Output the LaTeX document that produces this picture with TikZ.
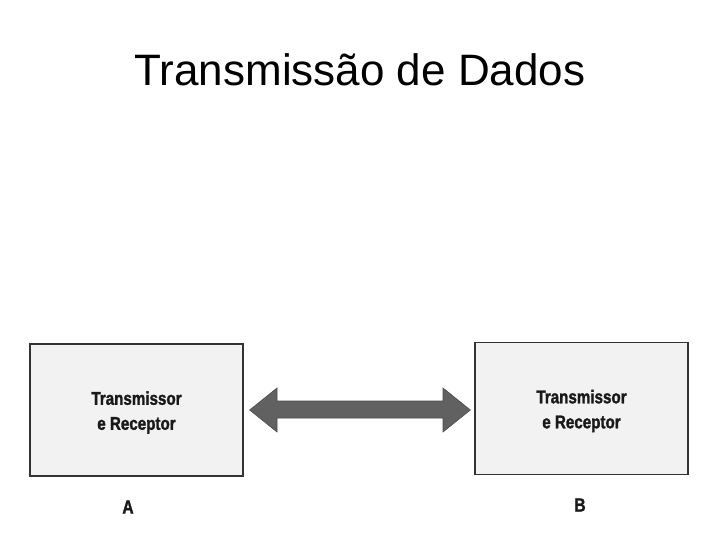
\documentclass[tikz,border=0pt]{standalone}
\usepackage{fontspec}
\setmainfont{Liberation Sans}
\newfontfamily\condfont[FakeStretch=0.82,FakeBold=1.5]{Liberation Sans Bold}
\begin{document}
\begin{tikzpicture}[x=1pt,y=-1pt,
  devbox/.style={draw=black!80,line width=1.3pt,fill=black!5,minimum width=213pt,minimum height=132pt,inner sep=0pt},
  devtext/.style={font=\condfont\fontsize{18.5}{25}\selectfont,text=black!90,align=center},
  devlabel/.style={font=\condfont\fontsize{19}{20}\selectfont,text=black!90},
  link/.style={fill=black!62,draw=black!70,line width=0.6pt}]
\useasboundingbox (0,0) rectangle (720,540);
\fill[white] (0,0) rectangle (720,540);
\node[font=\fontsize{44}{50}\selectfont] (title) at (360,70) {Transmissão de Dados};
\node[devbox] (A) at (136.5,410) {};
\node[devtext] (tA) at ([yshift=-2.5pt]A.center) {Transmissor\\e Receptor};
\node[devbox] (B) at (581.5,408.5) {};
\node[devtext] (tB) at ([yshift=-2.5pt]B.center) {Transmissor\\e Receptor};
\node[devlabel] (lA) at (128,507) {A};
\node[devlabel] (lB) at (580,505) {B};
\coordinate (l) at ([xshift=6pt]A.east);
\coordinate (r) at ([xshift=-4pt]B.west);
\fill[link] (l |- 0,410) -- (277,388) -- (277,401) -- (443,401) -- (443,388)
  -- (r |- 0,410) -- (443,432) -- (443,418) -- (277,418) -- (277,432) -- cycle;
\end{tikzpicture}
\end{document}
